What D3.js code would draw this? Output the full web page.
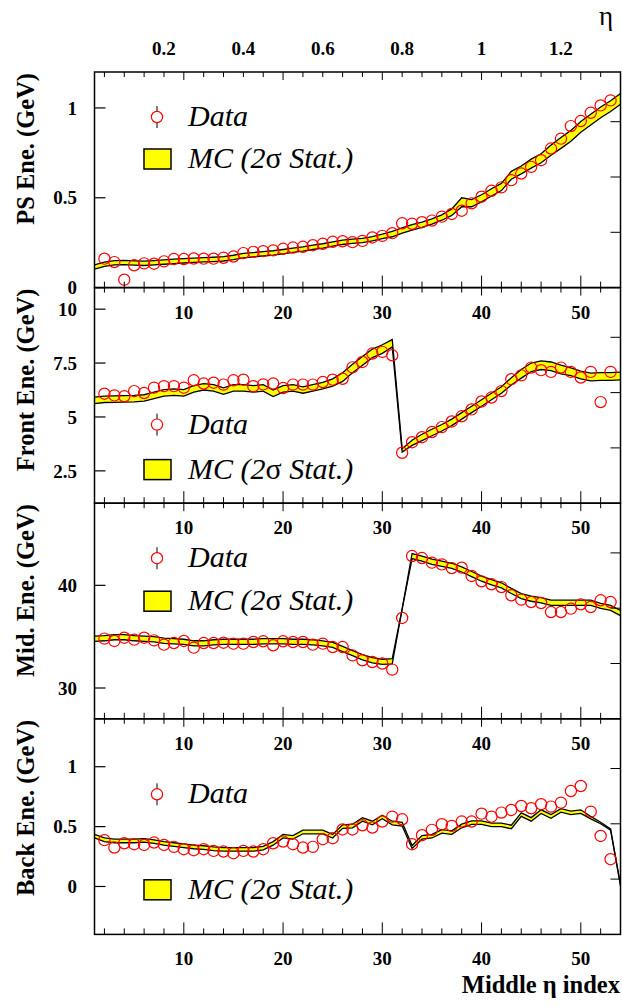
<!DOCTYPE html>
<html><head><meta charset="utf-8">
<script src="https://cdn.jsdelivr.net/npm/d3@7"></script>
<style>body{margin:0;background:#fff}svg{display:block}</style>
</head><body>
<svg id="c" width="622" height="1006"></svg>
<script>
// ---------- data ----------
const mcIndex = [1,2,3,4,5,6,7,8,9,10,11,12,13,14,15,16,17,18,19,20,21,22,23,24,25,26,27,28,29,30,31,32,33,34,35,36,37,38,39,40,41,42,43,44,45,46,47,48,49,50,51,52,53,54];
const dataIndex = [2,3,4,5,6,7,8,9,10,11,12,13,14,15,16,17,18,19,20,21,22,23,24,25,26,27,28,29,30,31,32,33,34,35,36,37,38,39,40,41,42,43,44,45,46,47,48,49,50,51,52,53];

const psData = [0.161,0.142,0.044,0.124,0.135,0.133,0.146,0.159,0.159,0.162,0.161,0.161,0.166,0.173,0.192,0.199,0.203,0.207,0.216,0.223,0.227,0.236,0.244,0.255,0.258,0.253,0.260,0.279,0.288,0.303,0.358,0.355,0.364,0.373,0.395,0.410,0.428,0.469,0.506,0.539,0.558,0.598,0.635,0.672,0.709,0.774,0.829,0.899,0.927,0.973,1.014,1.042];
const psMC = [0.115,0.130,0.138,0.140,0.137,0.135,0.138,0.142,0.146,0.149,0.152,0.155,0.157,0.160,0.168,0.178,0.183,0.188,0.193,0.200,0.208,0.215,0.224,0.232,0.243,0.252,0.258,0.262,0.272,0.285,0.298,0.318,0.335,0.350,0.368,0.390,0.420,0.475,0.470,0.497,0.530,0.560,0.625,0.655,0.690,0.720,0.765,0.805,0.845,0.895,0.935,0.975,1.010,1.050];
const psErr = [0.012,0.012,0.012,0.012,0.012,0.012,0.012,0.012,0.012,0.012,0.012,0.012,0.012,0.012,0.012,0.012,0.012,0.012,0.012,0.012,0.012,0.012,0.012,0.012,0.012,0.012,0.012,0.012,0.012,0.012,0.015,0.015,0.015,0.015,0.015,0.015,0.018,0.025,0.02,0.02,0.02,0.02,0.022,0.022,0.025,0.025,0.028,0.03,0.03,0.03,0.03,0.03,0.03,0.03];

const frontData = [6.08,6.00,5.96,6.20,6.11,6.36,6.43,6.43,6.36,6.70,6.55,6.59,6.50,6.70,6.73,6.43,6.51,6.55,6.34,6.50,6.50,6.50,6.62,6.73,6.77,7.30,7.55,7.94,8.02,7.86,3.34,3.83,4.06,4.30,4.53,4.79,5.03,5.35,5.72,5.90,6.20,6.75,6.93,7.29,7.17,7.09,7.29,7.09,6.83,7.09,5.69,7.09];
const frontMC = [5.77,5.82,5.83,5.84,5.85,5.88,6.00,6.12,6.15,6.12,6.30,6.40,6.35,6.20,6.35,6.35,6.30,6.35,6.10,6.30,6.35,6.25,6.35,6.45,6.60,6.85,7.25,7.60,7.95,8.15,8.42,3.45,3.80,4.05,4.28,4.50,4.75,5.05,5.35,5.65,5.95,6.25,6.65,7.00,7.30,7.40,7.35,7.20,7.10,6.95,6.85,6.88,6.88,6.90];
const frontErr = [0.15,0.15,0.15,0.15,0.15,0.15,0.15,0.15,0.15,0.15,0.15,0.15,0.15,0.15,0.15,0.15,0.15,0.15,0.15,0.15,0.15,0.15,0.15,0.15,0.17,0.2,0.2,0.2,0.2,0.2,0.17,0.08,0.12,0.15,0.15,0.15,0.15,0.15,0.15,0.15,0.15,0.15,0.17,0.2,0.2,0.2,0.2,0.2,0.18,0.18,0.18,0.18,0.18,0.18];

const midData = [34.81,34.58,34.90,34.71,34.90,34.64,34.22,34.38,34.58,33.93,34.38,34.38,34.41,34.32,34.32,34.48,34.55,34.16,34.55,34.48,34.48,34.22,34.32,33.99,33.99,33.18,32.70,32.53,32.38,31.79,36.82,42.85,42.66,42.21,42.04,41.68,41.72,40.91,40.39,40.10,39.83,39.03,38.61,38.37,38.28,37.40,37.40,37.73,38.15,37.89,38.54,38.37];
const midMC = [34.80,34.85,34.95,34.95,34.85,34.80,34.75,34.60,34.55,34.50,34.35,34.35,34.45,34.50,34.50,34.50,34.50,34.55,34.55,34.55,34.50,34.50,34.45,34.35,34.20,33.80,33.40,33.00,32.70,32.55,32.60,37.70,42.85,42.60,42.30,42.10,41.90,41.55,41.10,40.65,40.30,40.00,39.45,38.95,38.70,38.55,38.30,38.30,38.30,38.30,38.30,38.00,37.80,37.30];
const midErr = [0.25,0.25,0.25,0.25,0.25,0.25,0.25,0.25,0.25,0.25,0.25,0.25,0.25,0.25,0.25,0.25,0.25,0.25,0.25,0.25,0.25,0.25,0.25,0.25,0.25,0.25,0.25,0.25,0.25,0.25,0.25,0.0,0.25,0.25,0.25,0.25,0.25,0.25,0.25,0.25,0.25,0.25,0.25,0.25,0.25,0.25,0.25,0.25,0.25,0.25,0.25,0.25,0.25,0.25];

const backData = [0.387,0.325,0.361,0.353,0.347,0.367,0.347,0.331,0.311,0.303,0.311,0.297,0.292,0.278,0.297,0.292,0.311,0.361,0.375,0.353,0.325,0.331,0.395,0.403,0.476,0.476,0.511,0.492,0.542,0.583,0.561,0.353,0.428,0.473,0.520,0.506,0.542,0.542,0.608,0.583,0.617,0.639,0.672,0.653,0.687,0.667,0.700,0.797,0.839,0.625,0.422,0.228];
const backMC = [0.42,0.39,0.38,0.38,0.38,0.385,0.375,0.36,0.35,0.34,0.33,0.325,0.315,0.31,0.31,0.31,0.31,0.32,0.36,0.42,0.41,0.455,0.455,0.455,0.42,0.50,0.505,0.56,0.53,0.58,0.53,0.52,0.33,0.41,0.42,0.46,0.45,0.505,0.533,0.533,0.514,0.514,0.497,0.60,0.56,0.625,0.585,0.635,0.615,0.625,0.575,0.53,0.475,0.01];
const backErr = [0.015,0.015,0.015,0.015,0.015,0.015,0.015,0.015,0.015,0.015,0.015,0.015,0.015,0.015,0.015,0.015,0.015,0.015,0.015,0.015,0.015,0.015,0.015,0.015,0.015,0.015,0.015,0.015,0.015,0.015,0.015,0.015,0.012,0.015,0.015,0.015,0.015,0.015,0.015,0.015,0.015,0.015,0.015,0.015,0.015,0.015,0.015,0.015,0.015,0.015,0.01,0.006,0.005,0.003];

const xTickLabels = [10,20,30,40,50];
const etaTickLabels = [0.2,0.4,0.6,0.8,1,1.2];
const psTicks = [0,0.5,1];
const frontTicks = [2.5,5,7.5,10];
const midTicks = [30,40];
const backTicks = [0,0.5,1];
const titles = ["PS Ene. (GeV)","Front Ene. (GeV)","Mid. Ene. (GeV)","Back Ene. (GeV)"];

// ---------- layout ----------
const svg = d3.select("#c");
const left = 94.5, right = 620.5, top0 = 72, ph = 215.6;
const x = d3.scaleLinear().domain([1,54]).range([left,right]);
const etaX = d3.scaleLinear().domain([0.025,1.35]).range([left,right]);
const serif = "'Liberation Serif','Times New Roman',serif";

const panels = [
  {mc:psMC, err:psErr, data:psData, dom:[0,1.2], ticks:psTicks, legData:45, legMC:87},
  {mc:frontMC, err:frontErr, data:frontData, dom:[1,11], ticks:frontTicks, legData:137, legMC:182},
  {mc:midMC, err:midErr, data:midData, dom:[27,48], ticks:midTicks, legData:55, legMC:98},
  {mc:backMC, err:backErr, data:backData, dom:[-0.4,1.4], ticks:backTicks, legData:75.5, legMC:171}
];

const minorIdx = [2,4,6,8,10,12,14,16,18,20,22,24,26,28,30,32,34,36,38,40,42,44,46,48,50,52,54];

panels.forEach((p,k)=>{
  const top = top0 + k*ph, bot = top + ph;
  const y = d3.scaleLinear().domain(p.dom).range([bot, top]);
  const g = svg.append("g");
  const cid = "clip"+k;
  svg.append("clipPath").attr("id",cid).append("rect").attr("x",left).attr("y",top).attr("width",right-left).attr("height",ph);
  const pg = g.append("g").attr("clip-path",`url(#${cid})`);

  const mcPts = mcIndex.map((i,j)=>({i, v:p.mc[j], e:p.err[j]}));
  const area = d3.area().x(d=>x(d.i)).y0(d=>y(d.v-d.e)).y1(d=>y(d.v+d.e));
  pg.append("path").datum(mcPts).attr("d",area).attr("fill","#ffff00").attr("stroke","none");
  const lineHi = d3.line().x(d=>x(d.i)).y(d=>y(d.v+d.e));
  const lineLo = d3.line().x(d=>x(d.i)).y(d=>y(d.v-d.e));
  pg.append("path").datum(mcPts).attr("d",lineHi).attr("fill","none").attr("stroke","#000").attr("stroke-width",1.3);
  pg.append("path").datum(mcPts).attr("d",lineLo).attr("fill","none").attr("stroke","#000").attr("stroke-width",1.3);

  pg.selectAll("circle.d").data(dataIndex.map((i,j)=>({i,v:p.data[j]}))).enter().append("circle")
    .attr("cx",d=>x(d.i)).attr("cy",d=>y(d.v)).attr("r",5.6)
    .attr("fill","none").attr("stroke","#ff0000").attr("stroke-width",1.2);

  // frame
  g.append("rect").attr("x",left).attr("y",top).attr("width",right-left).attr("height",ph)
    .attr("fill","none").attr("stroke","#000").attr("stroke-width",1.5);

  // bottom ticks (up) and top ticks (down)
  minorIdx.forEach(i=>{
    const major = i%10===0;
    g.append("line").attr("x1",x(i)).attr("x2",x(i)).attr("y1",bot).attr("y2",bot-(major?12:6)).attr("stroke","#000").attr("stroke-width",1);
    g.append("line").attr("x1",x(i)).attr("x2",x(i)).attr("y1",top).attr("y2",top+(major?8:5)).attr("stroke","#000").attr("stroke-width",1);
  });
  // right ticks
  [1,2,3].forEach(m=>{
    g.append("line").attr("x1",right).attr("x2",right-10).attr("y1",bot-55.3*m).attr("y2",bot-55.3*m).attr("stroke","#000").attr("stroke-width",1);
  });
  // left ticks + labels
  p.ticks.forEach(t=>{
    g.append("line").attr("x1",left).attr("x2",left+11).attr("y1",y(t)).attr("y2",y(t)).attr("stroke","#000").attr("stroke-width",1.2);
    g.append("text").attr("x",77).attr("y",y(t)).attr("dy","0.35em").attr("text-anchor","end")
      .attr("font-family",serif).attr("font-weight","bold").attr("font-size",19).text(t);
  });
  // bottom labels
  xTickLabels.forEach(t=>{
    g.append("text").attr("x",x(t)).attr("y",bot+31).attr("text-anchor","middle")
      .attr("font-family",serif).attr("font-weight","bold").attr("font-size",19).text(t);
  });
  // y title
  g.append("text").attr("transform",`translate(34,${top+1}) rotate(-90)`).attr("text-anchor","end")
    .attr("font-family",serif).attr("font-weight","bold").attr("font-size",24.5).text(titles[k]);

  // legend
  const ly = top + p.legData, my = top + p.legMC;
  g.append("line").attr("x1",157).attr("x2",157).attr("y1",ly-11).attr("y2",ly-5.6).attr("stroke","#000").attr("stroke-width",1);
  g.append("line").attr("x1",157).attr("x2",157).attr("y1",ly+5.6).attr("y2",ly+11).attr("stroke","#000").attr("stroke-width",1);
  g.append("circle").attr("cx",157).attr("cy",ly).attr("r",5.6).attr("fill","none").attr("stroke","#ff0000").attr("stroke-width",1.2);
  g.append("text").attr("x",188).attr("y",ly+9).attr("font-family",serif).attr("font-style","italic").attr("font-size",30).text("Data");
  g.append("rect").attr("x",144).attr("y",my-10).attr("width",27).attr("height",20).attr("fill","#ffff00").attr("stroke","#000").attr("stroke-width",1.5);
  const mt = g.append("text").attr("x",188).attr("y",my+9).attr("font-family",serif).attr("font-style","italic").attr("font-size",30);
  mt.append("tspan").text("MC (2");
  mt.append("tspan").attr("font-style","normal").text("σ");
  mt.append("tspan").text(" Stat.)");
});

// eta axis labels on top
etaTickLabels.forEach(t=>{
  svg.append("text").attr("x",etaX(t)).attr("y",55).attr("text-anchor","middle")
    .attr("font-family",serif).attr("font-weight","bold").attr("font-size",19).text(t);
});
svg.append("text").attr("x",613).attr("y",25).attr("text-anchor","end")
  .attr("font-family",serif).attr("font-size",27).text("η");
svg.append("text").attr("x",620).attr("y",993).attr("text-anchor","end")
  .attr("font-family",serif).attr("font-weight","bold").attr("font-size",24.5).text("Middle η index");
</script>
</body></html>
